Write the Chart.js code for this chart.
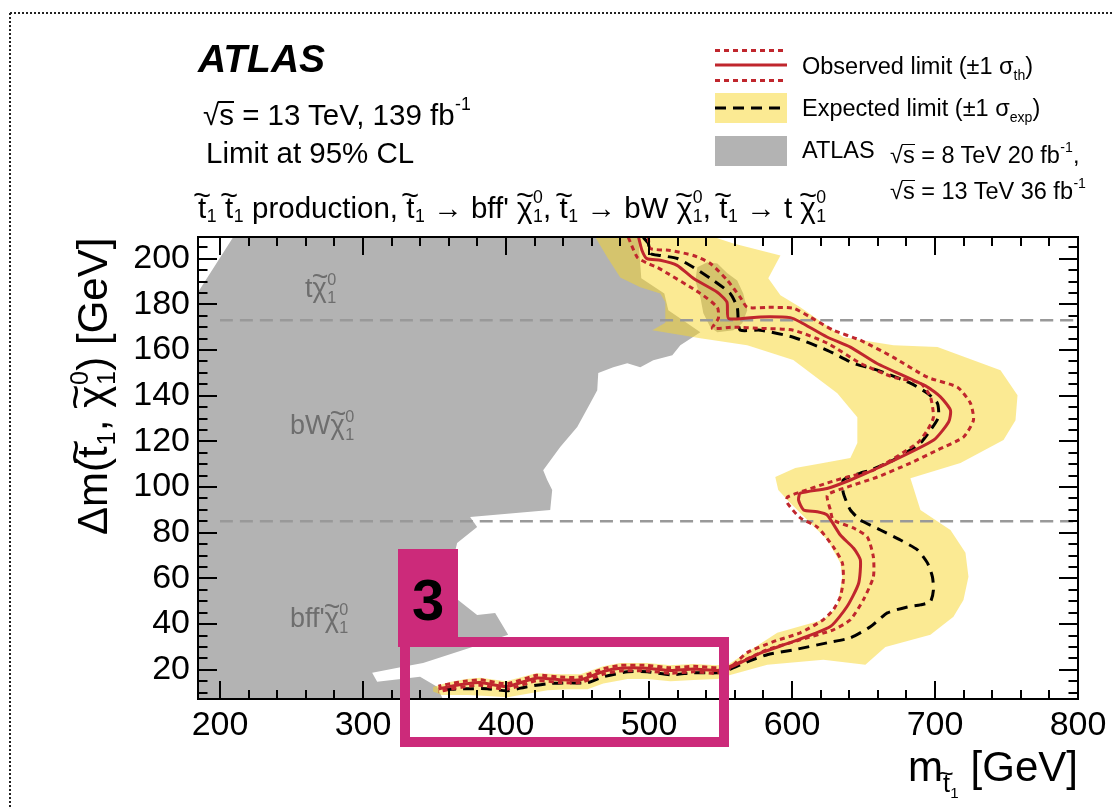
<!DOCTYPE html>
<html>
<head>
<meta charset="utf-8">
<title>Stop limits: m(stop) vs Δm(stop, neutralino)</title>
<script src="https://cdn.jsdelivr.net/npm/chart.js@4"></script>
<style>
  html, body { margin: 0; padding: 0; background: #fff; }
  #wrap { position: relative; width: 1113px; height: 809px; overflow: hidden;
          font-family: "Liberation Sans", Arial, Helvetica, sans-serif; color: #000; }
  #wrap canvas { position: absolute; left: 0; top: 0; }
  .t { position: absolute; white-space: nowrap; line-height: 1; }
  /* tilde accent over a glyph */
  .tl { position: relative; }
  .tl::before { content: "~"; position: absolute; left: 50%; top: -0.34em; line-height: 1;
                transform: translateX(-50%) scaleX(1.05); }
  /* stacked super/subscript */
  .ss { position: relative; display: inline-block; width: 0.36em; height: 1em; }
  .ss.w2 { width: 0.56em; }
  .ss > .u, .ss > .d { position: absolute; left: 0.03em; font-size: 0.6em; line-height: 1; }
  .ss > .u { top: 0.07em; }
  .ss > .d { top: 1.15em; }
  .sb { font-size: 0.6em; position: relative; top: 0.4em; }
  .sq { position: relative; }
  .sq::after { content: ""; position: absolute; left: -0.03em; right: 0; top: 0.12em;
               border-top: 0.07em solid currentColor; }
  .reg { color: #6e6e6e; font-size: 27px; }
  .xs { font-size: 0.6em; position: relative; top: 0.45em; }
  #ytitle { transform-origin: 0 0; transform: rotate(-90deg); }
  .mag { position: absolute; background: #cc2a7a; }
</style>
</head>
<body>
<div id="wrap">
  <canvas id="c" width="1113" height="809"></canvas>

  <svg width="1113" height="809" style="position:absolute;left:0;top:0;pointer-events:none">
    <line x1="10" y1="13" x2="1113" y2="13" stroke="#222" stroke-width="2" stroke-dasharray="2 2"/>
    <line x1="10" y1="13" x2="10" y2="809" stroke="#222" stroke-width="2" stroke-dasharray="2 2"/>
    <line x1="715" y1="50.5" x2="787" y2="50.5" stroke="#c0262d" stroke-width="3" stroke-dasharray="5 4"/>
    <line x1="715" y1="65" x2="787" y2="65" stroke="#c0262d" stroke-width="3"/>
    <line x1="715" y1="80.5" x2="787" y2="80.5" stroke="#c0262d" stroke-width="3" stroke-dasharray="5 4"/>
    <rect x="715" y="93" width="72" height="30" fill="rgba(248,214,40,0.5)"/>
    <line x1="715" y1="108" x2="787" y2="108" stroke="#000" stroke-width="3" stroke-dasharray="11 7"/>
    <rect x="715" y="136" width="72" height="30" fill="#b3b3b3"/>
  </svg>

  <div class="t" style="left:198px;top:39px;font-size:39px;font-weight:bold;font-style:italic;">ATLAS</div>
  <div class="t" style="left:203px;top:95px;font-size:29.5px;">√<span class="sq">s</span> = 13 TeV, 139 fb<span class="ss w2"><span class="u">-1</span></span></div>
  <div class="t" style="left:206px;top:138px;font-size:29.5px;">Limit at 95% CL</div>
  <div class="t" style="left:198px;top:188px;font-size:29.5px;"><span class="tl">t</span><span class="ss"><span class="d">1</span></span> <span class="tl">t</span><span class="ss"><span class="d">1</span></span> production, <span class="tl">t</span><span class="ss"><span class="d">1</span></span> → bff' <span class="tl">χ</span><span class="ss"><span class="u">0</span><span class="d">1</span></span>, <span class="tl">t</span><span class="ss"><span class="d">1</span></span> → bW <span class="tl">χ</span><span class="ss"><span class="u">0</span><span class="d">1</span></span>, <span class="tl">t</span><span class="ss"><span class="d">1</span></span> → t <span class="tl">χ</span><span class="ss"><span class="u">0</span><span class="d">1</span></span></div>

  <div class="t" style="left:802px;top:55px;font-size:23.5px;">Observed limit (±1 σ<span class="sb">th</span>)</div>
  <div class="t" style="left:802px;top:97px;font-size:23.5px;">Expected limit (±1 σ<span class="sb">exp</span>)</div>
  <div class="t" style="left:802px;top:139px;font-size:23.5px;">ATLAS</div>
  <div class="t" style="left:890px;top:139px;font-size:23.5px;">√<span class="sq">s</span> = 8 TeV 20 fb<span class="ss w2"><span class="u">-1</span></span>,</div>
  <div class="t" style="left:890px;top:175px;font-size:23.5px;">√<span class="sq">s</span> = 13 TeV 36 fb<span class="ss w2"><span class="u">-1</span></span></div>

  <div class="t reg" style="left:305px;top:270px;">t<span class="tl">χ</span><span class="ss"><span class="u">0</span><span class="d">1</span></span></div>
  <div class="t reg" style="left:290px;top:407px;">bW<span class="tl">χ</span><span class="ss"><span class="u">0</span><span class="d">1</span></span></div>
  <div class="t reg" style="left:290px;top:600px;">bff'<span class="tl">χ</span><span class="ss"><span class="u">0</span><span class="d">1</span></span></div>

  <div class="t" id="ytitle" style="left:65px;top:535px;font-size:42px;">Δm(<span class="tl">t</span><span class="ss"><span class="d">1</span></span>, <span class="tl">χ</span><span class="ss"><span class="u">0</span><span class="d">1</span></span>) [GeV]</div>
  <div class="t" style="right:35px;top:746px;font-size:42px;">m<span class="xs"><span class="tl">t</span><span class="ss"><span class="d">1</span></span></span> [GeV]</div>

  <div class="mag" style="left:398px;top:549px;width:60px;height:98px;"></div>
  <div style="position:absolute;left:400px;top:637px;width:309px;height:90px;border:10px solid #cc2a7a;"></div>
  <div class="t" style="left:412px;top:571px;font-size:58px;font-weight:bold;">3</div>
</div>

<script>
// Axis ranges and tick labels
const xRange = [184.6, 800];
const yRange = [7.2, 209.5];
const xTickLabels = [200, 300, 400, 500, 600, 700, 800];
const yTickLabels = [20, 40, 60, 80, 100, 120, 140, 160, 180, 200];

// Kinematic boundaries: m_t and m_W + m_b
const kinematicX = [200, 800];
const kinematicY = [173, 85];

// Previous ATLAS exclusion (8 TeV 20 fb-1, 13 TeV 36 fb-1)
const prevX = [170, 170, 210.8, 492.3, 494.6, 510.7, 513.5, 535.9, 521.9, 516.3,
               503.0, 493.9, 484.8, 475.0, 464.5, 463.8, 458.9, 449.8, 437.9, 426.0,
               428.8, 432.3, 430.9, 374.9, 379.8, 365.8, 363.0, 364.4, 366.5, 379.8,
               392.4, 401.5, 374.9, 342.0, 328.0, 306.4, 309.9, 339.9, 351.8, 356.0,
               356.0, 900];
const prevY = [0, 171, 211, 211, 191.4, 184.8, 177.4, 167.8, 162.1, 157.7,
               155.5, 152.5, 154.2, 152.5, 149.9, 142.4, 136.7, 126.3, 117.5, 107.4,
               103.1, 98.7, 90.0, 86.9, 82.5, 75.5, 68.1, 57.2, 50.6, 44.0,
               44.9, 35.3, 29.6, 23.0, 21.3, 18.7, 14.7, 16.9, 12.6, 7.0,
               0, 0];
const prevIslandX = [533.8, 540.8, 547.8, 554.8, 561.7, 565.9, 568.7, 565.2, 559.0, 547.8, 542.9, 538.0, 535.9, 532.4];
const prevIslandY = [196.2, 198.4, 197.9, 193.6, 190.5, 184.8, 177.4, 171.7, 168.7, 167.8, 170.0, 176.1, 183.1, 190.5];

// Expected limit ±1 sigma_exp band (closed contour)
const bandX = [461.0, 538.0, 559.0, 591.9, 583.4, 591.9, 605.8, 635.9, 670.9, 701.7,
               745.8, 757.7, 756.3, 747.9, 717.8, 682.8, 689.8, 710.8, 721.3, 723.4,
               719.9, 712.9, 696.8, 665.3, 651.3, 621.9, 582.7, 555.5, 548, 531,
               515, 499, 485, 468, 457, 443, 429, 415, 401, 387,
               373, 355, 349, 349, 360, 372, 382, 400, 421, 438,
               452, 468, 480, 499, 515, 531, 548, 556, 589.7, 621.9,
               631.7, 635.2, 633.8, 624.7, 610.7, 598.8, 590.4, 588.3, 602.3, 624.7,
               640.8, 645.7, 645.7, 631.7, 600.9, 568.7, 535.9, 502.3, 511.4, 511.4,
               507.9, 493.9, 479.9, 470.8];
const bandY = [211, 211, 206.7, 201.4, 191.4, 184.0, 178.7, 165.6, 162.1, 161.3,
               151.2, 140.2, 129.3, 120.6, 110.5, 103.9, 90.0, 81.2, 71.2, 60.7,
               50.6, 43.2, 35.3, 30.0, 22.2, 24.4, 22.2, 17.5, 16.0, 15.5,
               15.0, 16.0, 16.0, 14.0, 11.5, 11.5, 11.0, 9.5, 8.0, 8.5,
               9.0, 9.0, 10.5, 12.5, 14.5, 16.0, 16.5, 15.0, 18.5, 18.0,
               18.0, 21.5, 23.0, 23.0, 22.0, 22.5, 22.0, 22.5, 36.2, 41.9,
               47.6, 60.7, 66.8, 76.9, 85.6, 93.0, 98.7, 104.4, 108.4, 110.9,
               112.7, 119.3, 130.6, 141.1, 155.6, 162.1, 165.2, 168.7, 172.0, 180.9,
               184.8, 187.5, 191.8, 200.6];

// Expected limit
const expX = [496.0, 499.5, 500.9, 507.9, 519.8, 531.0, 545.0, 556.8, 561.7, 562.4,
              563.8, 577.8, 600.9, 624.7, 642.9, 659.7, 682.8, 694.7, 701.7, 702.4,
              696.8, 689.8, 670.9, 654.8, 647.8, 635.9, 635.9, 640.8, 647.8, 661.8,
              675.8, 687.7, 694.7, 698.2, 698.9, 696.8, 689.8, 680.7, 666.7, 654.8,
              640.8, 624.7, 600.9, 582.7, 568.7, 555.5, 547.8, 531.0, 514.9, 498.8,
              484.8, 468.0, 456.8, 442.8, 428.8, 414.8, 400.8, 386.8, 372.8, 353.9];
const expY = [209.3, 206.7, 202.3, 201.4, 200.1, 196.2, 190.5, 184.8, 178.7, 173.0,
              168.7, 168.7, 165.6, 159.9, 154.2, 151.2, 145.5, 141.1, 136.7, 130.6,
              124.9, 119.3, 111.8, 107.4, 106.1, 103.1, 97.4, 90.0, 85.6, 81.2,
              76.8, 72.5, 66.8, 60.7, 55.0, 49.8, 48.4, 47.5, 44.9, 38.8,
              34.0, 31.8, 28.7, 26.6, 23.5, 20.0, 18.7, 18.7, 17.8, 19.1,
              19.1, 16.9, 14.3, 14.3, 13.9, 12.6, 10.8, 11.7, 11.7, 11.3];

// Observed limit
const obsX = [492.7, 495.1, 498.6, 507.9, 519.6, 531.2, 547.5, 554.5, 555.7, 577.8,
              598.8, 605.8, 624.5, 640.8, 659.5, 694.5, 703.8, 710.8, 709.6, 699.1,
              661.8, 640.8, 624.5, 605.8, 604.6, 608.1, 617.5, 624.5, 633.8, 643.1,
              647.8, 646.6, 638.5, 626.8, 601.1, 577.8, 555.7, 547.5, 531.2, 514.9,
              498.6, 479.9, 468.2, 451.9, 437.9, 421.6, 400.6, 381.9, 372.6, 360.9, 352.7];
const obsY = [209.4, 203.6, 200.0, 199.3, 197.1, 191.3, 185.4, 181.0, 173.8, 174.5,
              174.2, 172.3, 165.7, 161.3, 154.1, 143.9, 139.5, 133.7, 128.6, 120.6,
              108.9, 103.1, 99.4, 97.3, 94.3, 90.0, 89.2, 87.8, 79.0, 73.2,
              68.1, 57.9, 47.7, 38.9, 32.4, 27.3, 20.7, 19.7, 20.3, 19.7,
              20.7, 20.7, 19.3, 15.6, 15.6, 16.4, 12.7, 14.4, 13.9, 12.7, 11.6];

// Observed limit, -1 sigma_th
const obsDownX = [485.5, 491.8, 498.8, 505.8, 535.9, 547.8, 548.5, 544.3, 558.9, 577.8,
                  600.9, 624.7, 647.8, 670.9, 689.8, 696.8, 698.9, 694.7, 687.7, 656.9,
                  638.7, 624.7, 605.8, 596.7, 596.7, 605.8, 617.7, 628.9, 635.2, 635.9,
                  633.8, 628.9, 621.9, 605.8, 586.9, 568.7, 555.5, 547.5, 531.2, 514.9,
                  498.6, 479.9, 468.2, 451.9, 437.9, 421.6, 400.6, 381.9, 372.6, 360.9, 352.7];
const obsDownY = [209.3, 200.6, 198.0, 196.2, 184.8, 178.7, 173.9, 169.5, 170.0, 169.5,
                  168.7, 163.0, 154.2, 148.1, 145.5, 139.4, 130.6, 124.9, 119.3, 107.4,
                  104.4, 101.8, 97.8, 95.6, 93.0, 86.5, 82.5, 73.8, 66.8, 59.4,
                  52.0, 46.3, 41.9, 36.2, 32.3, 27.5, 20.2, 18.5, 19.1, 18.5,
                  19.5, 19.5, 18.1, 14.4, 14.4, 15.2, 11.5, 13.2, 12.7, 11.5, 10.4];

// Observed limit, +1 sigma_th
const obsUpX = [499.5, 500.9, 514.9, 531.0, 542.9, 554.8, 563.8, 568.7, 582.7, 600.9,
                612.8, 628.9, 647.8, 670.9, 694.7, 715.7, 724.8, 726.9, 719.9, 701.7,
                682.8, 659.7, 638.7, 624.7, 626.8, 628.9, 642.9, 652.7, 656.9, 656.9,
                649.9, 640.8, 628.9, 605.8, 582.7, 556.8, 547.5, 531.2, 514.9, 498.6,
                479.9, 468.2, 451.9, 437.9, 421.6, 400.6, 381.9, 372.6, 360.9, 352.7];
const obsUpY = [209.3, 204.5, 203.6, 201.4, 197.9, 190.5, 183.1, 178.7, 178.7, 178.3,
                174.4, 168.7, 164.3, 156.8, 148.1, 143.7, 136.7, 129.3, 121.9, 116.2,
                110.5, 104.4, 100.0, 96.5, 90.0, 85.6, 82.1, 78.1, 69.4, 60.7,
                50.6, 41.9, 37.5, 33.1, 28.8, 21.5, 20.9, 21.5, 20.9, 21.9,
                21.9, 20.5, 16.8, 16.8, 17.6, 13.9, 15.6, 15.1, 13.9, 12.8];

const FONT = '"Liberation Sans", Arial, Helvetica, sans-serif';
const RED = '#c0262d';

const pts = (xs, ys) => xs.map((x, i) => ({ x, y: ys[i] }));

// Frame plus inward major/minor tick marks on all four sides
const frameTicks = {
  id: 'frameTicks',
  afterDatasetsDraw(chart) {
    const { ctx, chartArea: a, scales: { x, y } } = chart;
    ctx.save();
    ctx.strokeStyle = '#000';
    ctx.lineWidth = 2;
    ctx.beginPath();
    for (let v = 200; v <= 800; v += 20) {
      const px = Math.round(x.getPixelForValue(v));
      const len = xTickLabels.includes(v) ? 18 : 9;
      ctx.moveTo(px, a.bottom); ctx.lineTo(px, a.bottom - len);
      ctx.moveTo(px, a.top); ctx.lineTo(px, a.top + len);
    }
    for (let v = 10; v <= 205; v += 5) {
      const py = Math.round(y.getPixelForValue(v));
      const len = yTickLabels.includes(v) ? 19 : 9.5;
      ctx.moveTo(a.left, py); ctx.lineTo(a.left + len, py);
      ctx.moveTo(a.right, py); ctx.lineTo(a.right - len, py);
    }
    ctx.stroke();
    ctx.strokeRect(a.left, a.top, a.right - a.left, a.bottom - a.top);
    ctx.restore();
  }
};

const polygon = (data, color, order) => ({
  data, fill: 'shape', backgroundColor: color, borderColor: 'transparent',
  borderWidth: 0, pointRadius: 0, tension: 0, order
});
const curve = (data, color, width, dash, order) => ({
  data, fill: false, borderColor: color, borderWidth: width, borderDash: dash,
  pointRadius: 0, tension: 0.2, order
});

new Chart(document.getElementById('c'), {
  type: 'line',
  data: {
    datasets: [
      curve(pts(obsX, obsY), RED, 3, [], 1),
      curve(pts(obsUpX, obsUpY), RED, 3, [5, 4], 2),
      curve(pts(obsDownX, obsDownY), RED, 3, [5, 4], 2),
      curve(pts(expX, expY), '#000', 3, [11, 7], 3),
      curve(pts(kinematicX, [kinematicY[0], kinematicY[0]]), '#999', 2.5, [13, 7], 4),
      curve(pts(kinematicX, [kinematicY[1], kinematicY[1]]), '#999', 2.5, [13, 7], 4),
      polygon(pts(bandX, bandY), 'rgba(248,214,40,0.5)', 5),
      polygon(pts(prevIslandX, prevIslandY), '#b3b3b3', 6),
      polygon(pts(prevX, prevY), '#b3b3b3', 7)
    ]
  },
  options: {
    responsive: false,
    animation: false,
    devicePixelRatio: 1,
    layout: { padding: { left: 0, top: 237, right: 35, bottom: 0 } },
    plugins: { legend: { display: false }, tooltip: { enabled: false } },
    events: [],
    scales: {
      x: {
        type: 'linear', min: xRange[0], max: xRange[1],
        grid: { display: false, drawTicks: false },
        border: { display: false },
        ticks: { font: { family: FONT, size: 34 }, color: '#000', padding: 6,
                 maxRotation: 0, autoSkip: false },
        afterBuildTicks: (s) => { s.ticks = xTickLabels.map(v => ({ value: v })); },
        afterFit: (s) => { s.height = 110; }
      },
      y: {
        type: 'linear', min: yRange[0], max: yRange[1],
        grid: { display: false, drawTicks: false },
        border: { display: false },
        ticks: { font: { family: FONT, size: 34 }, color: '#000', padding: 8, autoSkip: false },
        afterBuildTicks: (s) => { s.ticks = yTickLabels.map(v => ({ value: v })); },
        afterFit: (s) => { s.width = 198; }
      }
    }
  },
  plugins: [frameTicks]
});
</script>
</body>
</html>
